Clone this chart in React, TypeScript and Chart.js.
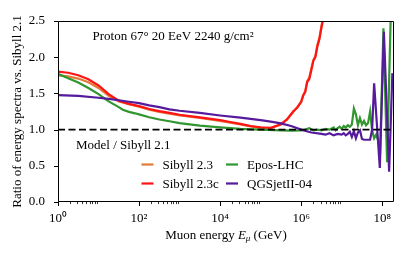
import React, { useEffect, useRef } from "react";
import { Chart, registerables } from "chart.js";

Chart.register(...registerables);

// ---------- data (x values are log10 of muon energy in GeV) ----------
const xTickValues = [1, 1e2, 1e4, 1e6, 1e8];
const xTickLabels = ["10⁰", "10²", "10⁴", "10⁶", "10⁸"];
const yTickValues = [0, 0.5, 1.0, 1.5, 2.0, 2.5];

const sibyll23LogE = [0, 0.25, 0.5, 0.75, 1.0, 1.25, 1.5, 1.75, 2.0, 2.25, 2.5, 2.75, 3.0, 3.5, 4.0, 4.25, 4.5, 4.75, 5.0, 5.25, 5.5, 5.65, 5.8, 5.9, 6.0, 6.05, 6.1, 6.15, 6.2, 6.25, 6.3, 6.35, 6.4, 6.45, 6.5, 6.55, 6.6];
const sibyll23Ratio = [1.75, 1.735, 1.705, 1.655, 1.575, 1.465, 1.39, 1.35, 1.315, 1.275, 1.245, 1.22, 1.195, 1.16, 1.12, 1.095, 1.07, 1.045, 1.025, 1.02, 1.07, 1.14, 1.24, 1.31, 1.39, 1.48, 1.53, 1.67, 1.72, 1.84, 1.96, 2.02, 2.17, 2.27, 2.43, 2.57, 2.72];

const sibyll23cLogE = [0, 0.25, 0.5, 0.75, 1.0, 1.25, 1.5, 1.75, 2.0, 2.25, 2.5, 2.75, 3.0, 3.5, 4.0, 4.25, 4.5, 4.75, 5.0, 5.25, 5.5, 5.65, 5.8, 5.9, 6.0, 6.05, 6.1, 6.15, 6.2, 6.25, 6.3, 6.35, 6.4, 6.45, 6.5, 6.55, 6.6];
const sibyll23cRatio = [1.80, 1.785, 1.75, 1.695, 1.61, 1.49, 1.40, 1.355, 1.325, 1.285, 1.255, 1.23, 1.205, 1.17, 1.13, 1.105, 1.08, 1.05, 1.03, 1.025, 1.075, 1.14, 1.25, 1.30, 1.38, 1.47, 1.52, 1.66, 1.70, 1.82, 1.95, 2.00, 2.15, 2.25, 2.41, 2.55, 2.70];

const eposLogE = [0, 0.25, 0.5, 0.75, 1.0, 1.25, 1.5, 1.6, 1.75, 1.9, 2.0, 2.25, 2.5, 2.75, 3.0, 3.5, 4.0, 4.5, 5.0, 5.5, 5.75, 6.0, 6.1, 6.2, 6.3, 6.4, 6.5, 6.6, 6.7, 6.8, 6.85, 6.9, 6.95, 7.0, 7.05, 7.1, 7.15, 7.2, 7.25, 7.3, 7.35, 7.4, 7.45, 7.5, 7.55, 7.6, 7.65, 7.7, 7.75, 7.8, 7.85, 7.9, 7.95, 8.03, 8.12, 8.22, 8.26];
const eposRatio = [1.77, 1.71, 1.65, 1.575, 1.49, 1.39, 1.31, 1.275, 1.245, 1.225, 1.21, 1.17, 1.14, 1.115, 1.09, 1.055, 1.03, 1.01, 1.0, 0.99, 0.985, 0.99, 1.0, 1.02, 0.99, 1.0, 0.99, 1.01, 1.0, 1.03, 0.99, 1.02, 1.04, 1.01, 1.05, 1.03, 1.06, 1.04, 1.07, 1.29, 1.21, 1.06, 1.16, 1.07, 1.12, 1.06, 1.09, 1.25, 0.99, 0.88, 0.93, 0.85, 0.75, 2.40, 0.55, 2.8, 2.8];

const qgsjetLogE = [0, 0.5, 1.0, 1.25, 1.5, 1.75, 2.0, 2.25, 2.5, 2.75, 3.0, 3.5, 4.0, 4.5, 5.0, 5.25, 5.5, 5.75, 6.0, 6.25, 6.5, 6.6, 6.7, 6.8, 6.9, 7.0, 7.05, 7.1, 7.15, 7.2, 7.25, 7.3, 7.35, 7.4, 7.45, 7.5, 7.55, 7.6, 7.65, 7.7, 7.75, 7.8, 7.94, 8.04, 8.17, 8.25];
const qgsjetRatio = [1.475, 1.465, 1.44, 1.425, 1.405, 1.385, 1.365, 1.335, 1.31, 1.28, 1.26, 1.23, 1.195, 1.165, 1.13, 1.11, 1.085, 1.05, 1.0, 0.96, 0.94, 0.93, 0.95, 0.92, 0.94, 0.93, 0.95, 0.92, 0.94, 0.97, 0.90, 0.98, 0.88, 0.96, 0.99, 0.87, 0.86, 0.86, 0.86, 0.86, 1.0, 1.64, 0.47, 2.35, 0.42, 1.78];

const referenceLogE = [0, 8.29];
const referenceRatio = [1, 1];

const annotationText = "Proton 67° 20 EeV 2240 g/cm²";
const referenceText = "Model / Sibyll 2.1";
const yTitle = "Ratio of energy spectra vs. Sibyll 2.1";

const FONT = '"Liberation Serif", "Times New Roman", serif';

function toPoints(logE: number[], ratio: number[]) {
  return logE.map((l, i) => ({ x: Math.pow(10, l), y: ratio[i] }));
}

const decorPlugin = {
  id: "decor",
  afterDatasetsDraw(chart: any) {
    const { ctx, chartArea: a, scales } = chart;
    const xs = scales.x;
    const ys = scales.y;
    ctx.save();
    const L = Math.round(a.left) + 0.5;
    const R = Math.round(a.right) - 0.5;
    const T = Math.round(a.top) + 0.5;
    const B = Math.round(a.bottom) - 0.5;
    ctx.strokeStyle = "#000";
    ctx.lineWidth = 1;
    ctx.beginPath();
    ctx.rect(L, T, R - L, B - T);
    ctx.stroke();

    // x ticks (major every 2 decades, minor in those decades)
    for (const v of xTickValues) {
      const px = Math.round(xs.getPixelForValue(v)) + 0.5;
      ctx.lineWidth = 1;
      ctx.beginPath();
      ctx.moveTo(px, B);
      ctx.lineTo(px, B + 4.5);
      ctx.stroke();
      for (let k = 2; k <= 9; k++) {
        const mv = v * k;
        if (mv > xs.max) break;
        const mp = Math.round(xs.getPixelForValue(mv)) + 0.5;
        ctx.lineWidth = 0.8;
        ctx.beginPath();
        ctx.moveTo(mp, B);
        ctx.lineTo(mp, B + 2.6);
        ctx.stroke();
      }
    }
    // y ticks
    for (const v of yTickValues) {
      const py = Math.round(ys.getPixelForValue(v)) + 0.5;
      ctx.lineWidth = 1;
      ctx.beginPath();
      ctx.moveTo(L, py);
      ctx.lineTo(L - 4.5, py);
      ctx.stroke();
    }

    // texts
    ctx.fillStyle = "#000";
    ctx.textAlign = "left";
    ctx.textBaseline = "alphabetic";
    ctx.font = `13px ${FONT}`;
    ctx.fillText(annotationText, 92.5, 40);
    ctx.fillText(referenceText, 76, 148.5);

    // legend
    const ds = chart.data.datasets;
    const byLabel: any = {};
    ds.forEach((d: any) => (byLabel[d.label] = d));
    const legendItems = [
      { label: "Sibyll 2.3", col: 0, row: 0 },
      { label: "Sibyll 2.3c", col: 0, row: 1 },
      { label: "Epos-LHC", col: 1, row: 0 },
      { label: "QGSjetII-04", col: 1, row: 1 },
    ];
    const colX = [141.5, 226];
    const rowY = [164.5, 183.5];
    for (const it of legendItems) {
      const d = byLabel[it.label];
      const x0 = colX[it.col];
      const y0 = rowY[it.row];
      ctx.strokeStyle = d.borderColor;
      ctx.lineWidth = 2.2;
      ctx.beginPath();
      ctx.moveTo(x0, y0);
      ctx.lineTo(x0 + 12, y0);
      ctx.stroke();
      ctx.fillStyle = "#000";
      ctx.fillText(it.label, x0 + 21, y0 + 4.2);
    }

    // x axis title with italic E and subscript mu
    const parts = [
      { t: "Muon energy ", f: `13px ${FONT}`, dy: 0 },
      { t: "E", f: `italic 13px ${FONT}`, dy: 0 },
      { t: "μ", f: `italic 9px ${FONT}`, dy: 2.5 },
      { t: " (GeV)", f: `13px ${FONT}`, dy: 0 },
    ];
    let total = 0;
    for (const p of parts) {
      ctx.font = p.f;
      total += ctx.measureText(p.t).width;
    }
    let cx = (a.left + a.right) / 2 - total / 2;
    for (const p of parts) {
      ctx.font = p.f;
      ctx.fillText(p.t, cx, 238.5 + p.dy);
      cx += ctx.measureText(p.t).width;
    }
    ctx.restore();
  },
};

export default function App() {
  const ref = useRef<HTMLCanvasElement | null>(null);
  useEffect(() => {
    document.body.style.margin = "0";
    const canvas = ref.current!;
    const line = (label: string, color: string, logE: number[], ratio: number[], extra: any = {}) => ({
      label,
      data: toPoints(logE, ratio),
      borderColor: color,
      backgroundColor: color,
      borderWidth: 2.2,
      pointRadius: 0,
      tension: 0,
      fill: false,
      clip: 0,
      ...extra,
    });
    const chart = new Chart(canvas, {
      type: "line",
      data: {
        datasets: [
          line("Model / Sibyll 2.1", "#000000", referenceLogE, referenceRatio, { borderDash: [7, 3.5], borderWidth: 1.8 }),
          line("QGSjetII-04", "#561a9c", qgsjetLogE, qgsjetRatio),
          line("Epos-LHC", "#31962f", eposLogE, eposRatio),
          line("Sibyll 2.3c", "#ff1414", sibyll23cLogE, sibyll23cRatio),
          line("Sibyll 2.3", "#e07b39", sibyll23LogE, sibyll23Ratio),
        ],
      },
      options: {
        animation: false,
        responsive: false,
        maintainAspectRatio: false,
        layout: { padding: { top: 21, right: 22, left: 0, bottom: 0 } },
        plugins: { legend: { display: false }, tooltip: { enabled: false } },
        scales: {
          x: {
            type: "logarithmic",
            min: 1,
            max: 1.95e8,
            grid: { display: false, drawTicks: false },
            border: { display: false },
            afterBuildTicks: (s: any) => {
              s.ticks = xTickValues.map((v) => ({ value: v, major: true }));
            },
            afterFit: (s: any) => {
              s.height = 55;
            },
            ticks: {
              autoSkip: false,
              maxRotation: 0,
              padding: 9,
              color: "#000",
              font: { family: FONT, size: 13 },
              callback: (_v: any, i: number) => xTickLabels[i],
            },
          },
          y: {
            min: 0,
            max: 2.5,
            grid: { display: false, drawTicks: false },
            border: { display: false },
            afterBuildTicks: (s: any) => {
              s.ticks = yTickValues.map((v) => ({ value: v }));
            },
            afterFit: (s: any) => {
              s.width = 58;
            },
            title: {
              display: true,
              text: yTitle,
              color: "#000",
              font: { family: FONT, size: 13 },
              padding: { top: 10, bottom: 0 },
            },
            ticks: {
              padding: 13,
              color: "#000",
              font: { family: FONT, size: 13 },
              callback: (v: any) => Number(v).toFixed(1),
            },
          },
        },
      },
      plugins: [decorPlugin],
    } as any);
    return () => chart.destroy();
  }, []);
  return (
    <div style={{ width: 416, height: 257 }}>
      <canvas ref={ref} width={416} height={257} style={{ display: "block" }} />
    </div>
  );
}
